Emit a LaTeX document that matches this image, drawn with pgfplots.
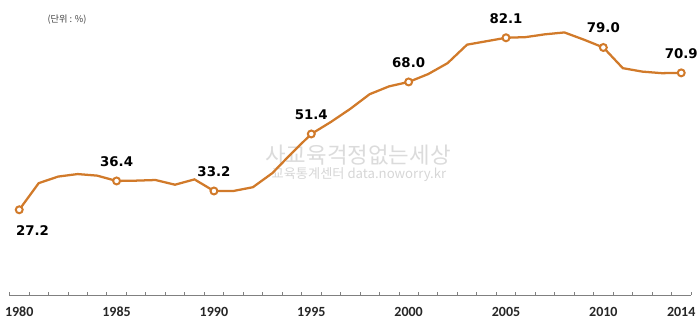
\documentclass[border=0pt]{standalone}
\usepackage{fontspec}
\usepackage{pgfplots}
\pgfplotsset{compat=1.18}
\setmainfont{DejaVu Sans}
\newfontfamily\dv{DejaVu Sans}
\newfontfamily\carlito{Carlito}
\newfontfamily\kr{Noto Sans CJK KR}
\definecolor{ln}{RGB}{209,122,42}
\begin{document}
\begin{tikzpicture}
\useasboundingbox (0,0) rectangle (525pt,241.5pt);
% watermark
\node[text=black!14, font=\kr\fontsize{16.8}{19}\selectfont, inner sep=0] at (268.5pt,125pt) {사교육걱정없는세상};
\node[text=black!16, font=\kr\fontsize{9.9}{11}\selectfont, inner sep=0] at (269.25pt,110.3pt) {교육통계센터 data.noworry.kr};
% unit note
\node[text=black!75, font=\kr\fontsize{6.9}{8}\selectfont, inner sep=0] at (50.25pt,226.9pt) {(단위 : \%)};
\begin{axis}[
  at={(7.125pt,20.25pt)}, anchor=south west,
  scale only axis, width=511.1pt, height=211.5pt,
  xmin=1979.5, xmax=2014.5, ymin=0, ymax=90,
  axis y line=none, axis x line*=bottom,
  x axis line style={black!50, line width=0.6pt, -},
  xtick={1980,1985,1990,1995,2000,2005,2010,2014},
  xticklabels={1980,1985,1990,1995,2000,2005,2010,2014},
  major tick length=0pt,
  minor xtick={1979.5,1980.5,1981.5,1982.5,1983.5,1984.5,1985.5,1986.5,1987.5,1988.5,1989.5,1990.5,1991.5,1992.5,1993.5,1994.5,1995.5,1996.5,1997.5,1998.5,1999.5,2000.5,2001.5,2002.5,2003.5,2004.5,2005.5,2006.5,2007.5,2008.5,2009.5,2010.5,2011.5,2012.5,2013.5,2014.5},
  minor tick length=2.4pt,
  tick align=inside,
  minor tick style={black!50, line width=0.6pt},
  xticklabel style={font=\carlito\bfseries\fontsize{10.5}{12}\selectfont, text=black!85, anchor=base, yshift=-15.75pt},
  clip=false,
]
\addplot[ln, line width=1.7pt, no markers] coordinates {
(1980,27.2)(1981,35.7)(1982,37.8)(1983,38.6)(1984,38.1)(1985,36.4)
(1986,36.5)(1987,36.7)(1988,35.2)(1989,36.9)(1990,33.2)
(1991,33.2)(1992,34.4)(1993,38.9)(1994,45.3)(1995,51.4)
(1996,55.2)(1997,59.4)(1998,64.1)(1999,66.6)(2000,68.0)
(2001,70.5)(2002,74.0)(2003,79.9)(2004,81.0)(2005,82.1)
(2006,82.3)(2007,83.2)(2008,83.8)(2009,81.5)(2010,79.0)
(2011,72.4)(2012,71.3)(2013,70.8)(2014,70.9)
};
\addplot[only marks, mark=*, mark size=2.6pt, mark options={draw=ln, fill=white, line width=1.5pt},
  point meta=explicit symbolic, nodes near coords,
  every node near coord/.append style={anchor=center, yshift=14.6pt, text=black, font=\dv\bfseries\fontsize{10}{12}\selectfont}]
coordinates {
(1985,36.4)[36.4] (1990,33.2)[33.2] (1995,51.4)[51.4] (2000,68.0)[68.0]
(2005,82.1)[82.1] (2010,79.0)[79.0] (2014,70.9)[70.9]
};
\addplot[only marks, mark=*, mark size=2.6pt, mark options={draw=ln, fill=white, line width=1.5pt},
  point meta=explicit symbolic, nodes near coords,
  every node near coord/.append style={anchor=center, yshift=-15.6pt, xshift=10pt, text=black, font=\dv\bfseries\fontsize{10}{12}\selectfont}]
coordinates {
(1980,27.2)[27.2]
};
\end{axis}
\end{tikzpicture}
\end{document}
